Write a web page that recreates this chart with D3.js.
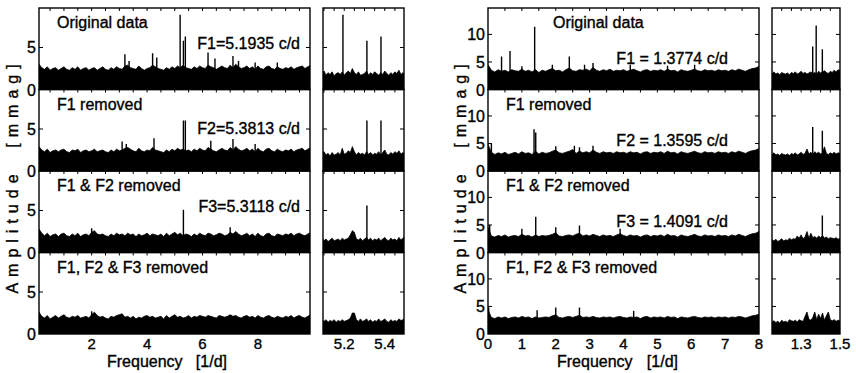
<!DOCTYPE html>
<html>
<head>
<meta charset="utf-8">
<script src="https://cdn.jsdelivr.net/npm/d3@7"></script>
<style>
  body { margin: 0; background: #fff; }
  svg { font-family: "Liberation Sans", Arial, sans-serif; }
  text { fill: #000; stroke: #000; stroke-width: 0.35px; }
</style>
</head>
<body>
<svg id="chart" width="856" height="373"></svg>
<script>
// Panel titles
const panelLabels = ['Original data', 'F1 removed', 'F1 & F2 removed', 'F1, F2 & F3 removed'];
const leftFreqLabels = ['F1=5.1935 c/d', 'F2=5.3813 c/d', 'F3=5.3118 c/d'];
const rightFreqLabels = ['F1 = 1.3774 c/d', 'F2 = 1.3595 c/d', 'F3 = 1.4091 c/d'];

// Tick values / labels
const leftMainTicks = d3.range(0.5, 10, 0.5);
const leftMainLabels = [2, 4, 6, 8];
const leftZoomTicks = [5.1, 5.15, 5.2, 5.25, 5.3, 5.35, 5.4, 5.45];
const leftZoomLabels = [5.2, 5.4];
const leftYTicks = [5];
const leftYLabels = [0, 5];
const rightMainTicks = d3.range(0, 8.01, 0.5);
const rightMainLabels = [0, 1, 2, 3, 4, 5, 6, 7, 8];
const rightZoomTicks = [1.2, 1.25, 1.3, 1.35, 1.4, 1.45];
const rightZoomLabels = [1.3, 1.5];
const rightYTicks = [5, 10];
const rightYLabels = [0, 5, 10];

// Left star: noise envelope every 0.1 c/d from 0.1 (mmag)
const leftNoise1 = [3.0,2.6,2.4,2.7,2.3,2.5,2.6,2.3,2.5,2.7, 2.4,2.3,2.6,2.4,2.7,2.3,2.5,2.6,2.3,2.5,
  2.6,2.3,2.5,2.7,2.4,2.3,2.6,2.4,2.7,2.5, 2.4,2.8,2.9,2.6,2.5,2.4,2.8,2.5,2.3,2.5,
  2.6,2.9,2.7,2.5,2.4,2.3,2.6,2.4,2.7,2.5, 2.8,2.6,2.9,2.6,2.5,2.4,2.7,2.5,2.8,2.6,
  2.5,2.9,2.7,2.6,2.4,2.6,2.8,2.6,2.5,2.9, 2.6,3.0,2.7,2.5,2.6,2.8,2.5,2.7,2.4,2.8,
  2.5,2.4,2.7,2.8,2.5,2.4,2.7,2.5,2.4,2.6, 2.5,2.7,2.4,2.6,2.7,2.8,2.5,2.7,2.9];
const leftNoise2 = [2.9,2.5,2.3,2.6,2.2,2.4,2.5,2.3,2.5,2.6, 2.3,2.2,2.5,2.4,2.6,2.2,2.4,2.5,2.3,2.4,
  2.6,2.3,2.4,2.5,2.3,2.2,2.5,2.3,2.6,2.4, 2.5,2.7,2.8,2.6,2.4,2.3,2.7,2.4,2.3,2.5,
  2.4,2.8,2.5,2.4,2.3,2.2,2.5,2.3,2.6,2.4, 2.7,2.5,2.6,2.4,2.5,2.3,2.6,2.4,2.7,2.5,
  2.4,2.8,2.6,2.4,2.3,2.5,2.7,2.5,2.4,2.8, 2.5,2.9,2.6,2.4,2.5,2.7,2.4,2.6,2.3,2.7,
  2.4,2.3,2.6,2.7,2.4,2.3,2.6,2.4,2.3,2.5, 2.4,2.6,2.3,2.5,2.6,2.7,2.4,2.6,2.8];
const leftNoise3 = [2.8,2.3,2.0,2.3,1.9,2.1,2.2,1.9,2.2,2.3, 2.0,1.9,2.2,2.0,2.3,1.9,2.1,2.2,2.0,2.4,
  2.6,2.2,2.1,2.2,2.0,1.9,2.2,2.0,2.3,2.1, 2.2,2.0,2.3,2.1,2.2,1.9,2.2,2.0,2.1,2.3,
  2.0,2.2,2.1,2.0,2.2,1.9,2.3,2.0,2.2,2.4, 2.1,2.3,2.0,2.2,2.1,1.9,2.2,2.0,2.3,2.1,
  2.0,2.3,2.2,2.0,2.1,2.3,2.2,2.0,2.1,2.4, 2.2,2.5,2.2,2.0,2.1,2.3,2.0,2.2,1.9,2.3,
  2.0,1.9,2.2,2.3,2.0,1.9,2.2,2.1,2.0,2.2, 2.1,2.3,2.0,2.2,2.3,2.1,2.0,2.2,2.4];
const leftNoise4 = [2.6,2.1,1.9,2.2,1.8,2.0,2.2,1.9,2.1,2.3, 2.0,1.9,2.1,2.0,2.2,1.9,2.0,2.1,1.9,2.3,
  2.6,2.2,2.0,2.1,1.9,1.8,2.1,2.0,2.2,2.3, 2.4,2.0,2.1,1.9,2.1,1.8,2.0,1.9,2.1,2.2,
  2.0,2.1,1.9,2.0,2.1,1.8,2.2,1.9,2.1,2.3, 2.0,2.1,1.9,2.0,2.2,1.9,2.1,2.0,2.2,2.1,
  2.0,2.2,2.1,2.0,1.9,2.2,2.1,2.0,2.1,2.3, 2.1,2.2,2.0,1.9,2.1,2.2,2.0,2.1,1.9,2.2,
  2.0,1.9,2.1,2.2,2.0,1.9,2.1,2.0,1.9,2.1, 2.0,2.2,1.9,2.1,2.2,2.0,1.9,2.1,2.3];

// Left star: peaks [frequency c/d, amplitude mmag]
const leftPeaks1 = [[3.2,4.2],[3.35,3.4],[4.2,4.3],[4.35,3.8],[5.1935,8.9],[5.3118,5.8],[5.3813,6.3],
  [6.2,4.4],[6.45,3.7],[7.1,4.0],[7.3,3.4],[7.9,3.2],[8.7,3.2]];
const leftPeaks2 = [[3.1,3.5],[3.25,3.2],[4.25,3.9],[5.3118,6.0],[5.3813,6.0],[6.3,3.6],[7.1,3.8],[7.9,3.2]];
const leftPeaks3 = [[2.0,2.9],[5.3118,5.1],[7.0,3.0]];
const leftPeaks4 = [[2.0,2.7]];

// Left star zoom: noise every 0.01 c/d from 5.09
const leftZoomNoise1 = [1.9,2.2,1.7,2.0,1.8,2.1,1.6,1.9,2.0,1.8, 2.1,1.7,2.0,2.2,1.9,2.5,2.0,1.8,2.1,1.7,
  1.8,1.9,2.2,1.7,2.0,1.8,2.1,1.9,1.7,2.0, 1.8,2.2,1.9,1.7,2.0,1.8,2.1,1.9,2.3,1.8,2.0,1.7];
const leftZoomNoise2 = [2.0,2.3,1.9,2.1,1.8,2.2,1.9,2.0,2.2,1.9, 2.7,2.0,2.1,2.4,2.2,2.9,2.3,1.9,2.2,2.0,
  2.1,1.9,2.3,2.0,2.2,1.9,2.1,2.0,2.3,1.9, 2.2,2.5,2.0,1.9,2.2,2.0,2.3,2.1,2.4,2.0,2.2,1.9];
const leftZoomNoise3 = [1.8,1.4,1.6,1.3,1.5,1.7,1.4,1.5,1.6,1.4, 1.7,1.5,1.6,1.7,2.1,2.6,2.4,1.6,1.5,1.7,
  1.4,1.6,1.8,1.5,1.7,1.4,1.6,1.5,1.7,1.4, 1.6,1.8,1.5,1.4,1.7,1.5,1.6,1.4,1.8,1.5,1.7,1.9];
const leftZoomNoise4 = [1.8,1.5,1.7,1.4,1.6,1.5,1.7,1.4,1.6,1.5, 1.7,1.5,1.6,1.7,1.9,2.5,2.5,1.7,1.5,1.8,
  1.5,1.6,1.8,1.5,1.7,1.4,1.6,1.5,1.8,1.5, 1.6,1.8,1.5,1.4,1.7,1.5,1.6,1.5,1.8,1.6,1.7,1.9];
const leftZoomPeaks1 = [[5.1935,8.9],[5.3118,5.8],[5.3813,6.3]];
const leftZoomPeaks2 = [[5.3118,6.0],[5.3813,6.0]];
const leftZoomPeaks3 = [[5.3118,5.6]];
const leftZoomPeaks4 = [];

// Right star: noise envelope every 0.1 c/d from 0
const rightNoise1 = [4.5,3.5,3.2,3.6,3.3,3.5,3.2,3.6,3.4,3.3, 3.7,3.3,3.5,3.2,3.6,3.1,3.5,3.3,3.6,3.8,
  3.4,3.5,3.2,3.6,3.9,3.4,3.3,3.6,3.5,3.7, 3.4,4.0,3.5,3.3,3.6,3.4,3.7,3.3,3.5,3.4,
  3.6,3.3,3.5,3.7,3.4,3.2,3.5,3.6,3.3,3.5, 3.4,3.6,3.3,3.7,3.4,3.5,3.2,3.6,3.4,3.3,
  3.5,3.7,3.4,3.3,3.6,3.4,3.5,3.3,3.6,3.4, 3.5,3.3,3.6,3.4,3.7,3.5,3.3,3.6,3.8,3.9,4.2];
const rightNoise2 = [4.8,3.4,3.0,3.3,3.1,3.4,3.0,3.2,3.4,3.1, 3.5,3.2,3.3,3.0,3.6,3.1,3.4,3.2,3.3,3.6,
  3.8,3.3,3.2,3.4,3.6,3.9,3.2,3.6,3.3,3.5, 3.3,3.8,3.4,3.2,3.5,3.3,3.4,3.2,3.5,3.3,
  3.4,3.2,3.5,3.3,3.4,3.1,3.4,3.5,3.2,3.4, 3.3,3.5,3.2,3.6,3.3,3.4,3.1,3.5,3.3,3.2,
  3.4,3.6,3.3,3.2,3.5,3.3,3.4,3.2,3.5,3.3, 3.4,3.2,3.5,3.3,3.6,3.4,3.2,3.5,3.7,3.8,4.1];
const rightNoise3 = [4.6,3.0,2.8,3.1,2.9,3.2,2.8,3.0,3.1,2.9, 3.3,3.0,3.1,2.8,3.2,2.9,3.1,3.0,3.1,3.3,
  3.6,3.0,2.9,3.1,3.2,3.0,3.3,3.5,3.0,3.2, 3.0,3.3,3.1,2.9,3.2,3.0,3.1,2.9,3.2,3.4,
  3.1,2.9,3.2,3.0,3.1,2.8,3.1,3.2,2.9,3.1, 3.0,3.2,2.9,3.3,3.0,3.1,2.8,3.2,3.0,2.9,
  3.1,3.3,3.0,2.9,3.2,3.0,3.1,2.9,3.2,3.0, 3.1,2.9,3.2,3.0,3.3,3.1,2.9,3.2,3.4,3.5,3.8];
const rightNoise4 = [4.4,3.0,2.8,3.1,2.9,3.1,2.8,3.0,3.1,2.9, 3.2,3.0,3.1,2.8,3.1,2.9,3.0,3.1,3.0,3.3,
  3.5,3.0,2.9,3.1,3.2,3.0,3.2,3.4,3.0,3.1, 3.0,3.2,3.0,2.9,3.1,3.0,3.1,2.9,3.1,3.2,
  3.0,2.9,3.1,3.0,3.1,2.8,3.1,3.2,2.9,3.1, 3.0,3.1,2.9,3.2,3.0,3.1,2.8,3.1,3.0,2.9,
  3.1,3.2,3.0,2.9,3.1,3.0,3.1,2.9,3.1,3.0, 3.1,2.9,3.1,3.0,3.2,3.1,2.9,3.1,3.3,3.4,3.6];
const rightPeaks1 = [[0.4,6.0],[0.65,7.0],[1.0,4.2],[1.3774,11.4],[1.9,4.5],[2.4,6.0],[2.85,4.5],[3.1,4.8],
  [4.2,4.5],[5.3,4.3],[6.1,4.5]];
const rightPeaks2 = [[0.1,5.0],[1.3595,7.6],[1.4091,7.0],[2.0,4.5],[2.55,4.6],[2.7,4.3],[3.1,4.6]];
const rightPeaks3 = [[0.05,5.0],[1.0,4.3],[1.4091,6.5],[2.0,4.6],[2.7,4.9],[3.9,4.3]];
const rightPeaks4 = [[0.02,4.8],[1.45,4.3],[2.0,4.8],[2.7,4.8],[4.3,4.2]];

// Right star zoom: noise every 0.01 c/d from 1.15
const rightZoomNoise1 = [2.9,3.2,2.8,3.0,2.7,3.1,2.9,2.8,3.0,2.7, 3.1,2.9,3.2,2.8,3.0,3.3,2.9,3.1,2.8,3.0,
  3.2,2.9,3.1,2.8,3.3,3.0,3.2,3.4,3.1,2.9, 3.3,3.1,3.5,3.2,3.6,3.4];
const rightZoomNoise2 = [3.0,3.3,2.9,3.1,2.8,3.2,3.0,2.9,3.1,2.8, 3.2,3.0,3.3,2.9,3.1,3.4,3.0,3.2,4.0,3.1,
  3.4,3.0,3.5,3.2,3.4,3.1,3.3,4.4,3.2,3.0, 3.3,3.1,3.4,3.1,3.3,3.2];
const rightZoomNoise3 = [2.3,2.1,2.4,2.0,2.2,2.5,2.1,2.3,2.2,2.6, 2.3,2.5,2.4,3.0,2.6,3.2,2.5,2.8,3.8,2.6,
  3.5,2.7,2.9,2.6,3.0,2.7,3.1,2.6,2.8,2.5, 2.7,2.6,2.5,2.7,2.4,2.6];
const rightZoomNoise4 = [2.2,2.4,2.1,2.3,2.0,2.5,2.2,2.3,2.1,2.6, 2.4,2.3,2.5,2.2,2.6,2.4,2.3,3.2,4.0,2.7,
  2.5,3.0,4.0,2.6,3.6,2.8,3.8,2.5,3.3,4.0, 2.6,2.4,2.6,2.3,2.5,2.4];
const rightZoomPeaks1 = [[1.3595,7.8],[1.3774,11.6],[1.4091,7.3]];
const rightZoomPeaks2 = [[1.3595,8.0],[1.4091,7.3]];
const rightZoomPeaks3 = [[1.4091,6.7]];
const rightZoomPeaks4 = [];

// Layout
const svg = d3.select('#chart');
const panelTop = 8, panelH = 81.5;

const groups = [
  {
    mainRange: [39, 310], mainDomain: [0.1, 9.88],
    zoomRange: [323, 404], zoomDomain: [5.095, 5.495],
    yMax: 9.7, yTicks: leftYTicks, yLabels: leftYLabels,
    mainTicks: leftMainTicks, mainLabels: leftMainLabels,
    zoomTicks: leftZoomTicks, zoomLabels: leftZoomLabels,
    noise: [leftNoise1, leftNoise2, leftNoise3, leftNoise4], noiseStart: 0.1, noiseStep: 0.1,
    peaks: [leftPeaks1, leftPeaks2, leftPeaks3, leftPeaks4],
    zoomNoise: [leftZoomNoise1, leftZoomNoise2, leftZoomNoise3, leftZoomNoise4], zoomStart: 5.09, zoomStep: 0.01,
    zoomPeaks: [leftZoomPeaks1, leftZoomPeaks2, leftZoomPeaks3, leftZoomPeaks4],
    labelX: [57, 57, 57, 57], labelDy: 20,
    freqLabels: leftFreqLabels, freqX: 300, freqDy: [41, 44, 41],
    yTitleX: 18, freqTitleX: [107, 227]
  },
  {
    mainRange: [488, 759], mainDomain: [0, 8],
    zoomRange: [772, 840], zoomDomain: [1.15, 1.5],
    yMax: 14.8, yTicks: rightYTicks, yLabels: rightYLabels,
    mainTicks: rightMainTicks, mainLabels: rightMainLabels,
    zoomTicks: rightZoomTicks, zoomLabels: rightZoomLabels,
    noise: [rightNoise1, rightNoise2, rightNoise3, rightNoise4], noiseStart: 0, noiseStep: 0.1,
    peaks: [rightPeaks1, rightPeaks2, rightPeaks3, rightPeaks4],
    zoomNoise: [rightZoomNoise1, rightZoomNoise2, rightZoomNoise3, rightZoomNoise4], zoomStart: 1.15, zoomStep: 0.01,
    zoomPeaks: [rightZoomPeaks1, rightZoomPeaks2, rightZoomPeaks3, rightZoomPeaks4],
    labelX: [553, 506, 506, 506], labelDy: 20,
    freqLabels: rightFreqLabels, freqX: 728, freqDy: [56, 56, 56],
    yTitleX: 466, freqTitleX: [557, 678]
  }
];

let clipN = 0;

function drawBox(g, x, y, noise, start, step, peaks, ticks, yTicks) {
  const [x0, x1] = x.range();
  const [yb, yt] = y.range();
  const id = 'clip' + (clipN++);
  svg.append('clipPath').attr('id', id)
    .append('rect').attr('x', x0).attr('y', yt).attr('width', x1 - x0).attr('height', yb - yt);

  const body = g.append('g').attr('clip-path', `url(#${id})`);

  const area = d3.area()
    .x((d, j) => x(start + j * step))
    .y0(y(0))
    .y1(d => y(d));
  body.append('path').datum(noise).attr('d', area)
    .attr('fill', '#000').attr('stroke', '#000').attr('stroke-width', 0.8);

  body.selectAll('line.peak').data(peaks).join('line')
    .attr('class', 'peak')
    .attr('x1', d => x(d[0])).attr('x2', d => x(d[0]))
    .attr('y1', y(0)).attr('y2', d => y(d[1]))
    .attr('stroke', '#000').attr('stroke-width', 1.4);

  // inward ticks
  const tk = g.append('g').attr('stroke', '#000').attr('stroke-width', 1);
  ticks.filter(t => x(t) > x0 + 1 && x(t) < x1 - 1).forEach(t => {
    tk.append('line').attr('x1', x(t)).attr('x2', x(t)).attr('y1', yt).attr('y2', yt + 3);
    tk.append('line').attr('x1', x(t)).attr('x2', x(t)).attr('y1', yb).attr('y2', yb - 3);
  });
  yTicks.forEach(v => {
    tk.append('line').attr('x1', x0).attr('x2', x0 + 4).attr('y1', y(v)).attr('y2', y(v));
    tk.append('line').attr('x1', x1).attr('x2', x1 - 4).attr('y1', y(v)).attr('y2', y(v));
  });

  g.append('rect').attr('x', x0).attr('y', yt).attr('width', x1 - x0).attr('height', yb - yt)
    .attr('fill', 'none').attr('stroke', '#000').attr('stroke-width', 1.4);
}

function fmt(v) { return String(v); }

groups.forEach((cfg, gi) => {
  const g = svg.append('g');
  const x = d3.scaleLinear().domain(cfg.mainDomain).range(cfg.mainRange);
  const xz = d3.scaleLinear().domain(cfg.zoomDomain).range(cfg.zoomRange);
  const bottom = panelTop + 4 * panelH;

  panelLabels.forEach((lab, i) => {
    const top = panelTop + i * panelH;
    const y = d3.scaleLinear().domain([0, cfg.yMax]).range([top + panelH, top]);

    drawBox(g, x, y, cfg.noise[i], cfg.noiseStart, cfg.noiseStep, cfg.peaks[i], cfg.mainTicks, cfg.yTicks);
    drawBox(g, xz, y, cfg.zoomNoise[i], cfg.zoomStart, cfg.zoomStep, cfg.zoomPeaks[i], cfg.zoomTicks, cfg.yTicks);

    // y tick labels
    cfg.yLabels.forEach(v => {
      g.append('text').attr('x', cfg.mainRange[0] - 3).attr('y', y(v) + 6)
        .attr('text-anchor', 'end').attr('font-size', 16).text(fmt(v));
    });

    g.append('text').attr('x', cfg.labelX[i]).attr('y', top + cfg.labelDy)
      .attr('font-size', 16).text(lab);

    if (i < 3) {
      g.append('text').attr('x', cfg.freqX).attr('y', top + cfg.freqDy[i])
        .attr('text-anchor', 'end').attr('font-size', 16).text(cfg.freqLabels[i]);
    }
  });

  // x tick labels
  cfg.mainLabels.forEach(v => {
    g.append('text').attr('x', x(v)).attr('y', bottom + 15)
      .attr('text-anchor', 'middle').attr('font-size', 15).text(fmt(v));
  });
  cfg.zoomLabels.forEach(v => {
    g.append('text').attr('x', xz(v)).attr('y', bottom + 15)
      .attr('text-anchor', 'middle').attr('font-size', 15).text(fmt(v));
  });

  // axis titles
  g.append('text').attr('x', cfg.freqTitleX[0]).attr('y', 367).attr('font-size', 16).text('Frequency');
  g.append('text').attr('x', cfg.freqTitleX[1]).attr('y', 367).attr('text-anchor', 'end').attr('font-size', 16).text('[1/d]');

  g.append('text').attr('transform', `translate(${cfg.yTitleX},231) rotate(-90)`)
    .attr('text-anchor', 'middle').attr('font-size', 16).attr('letter-spacing', 6).text('Amplitude');
  g.append('text').attr('transform', `translate(${cfg.yTitleX},103) rotate(-90)`)
    .attr('text-anchor', 'middle').attr('font-size', 16).attr('letter-spacing', 6).text('[mmag]');
});
</script>
</body>
</html>
